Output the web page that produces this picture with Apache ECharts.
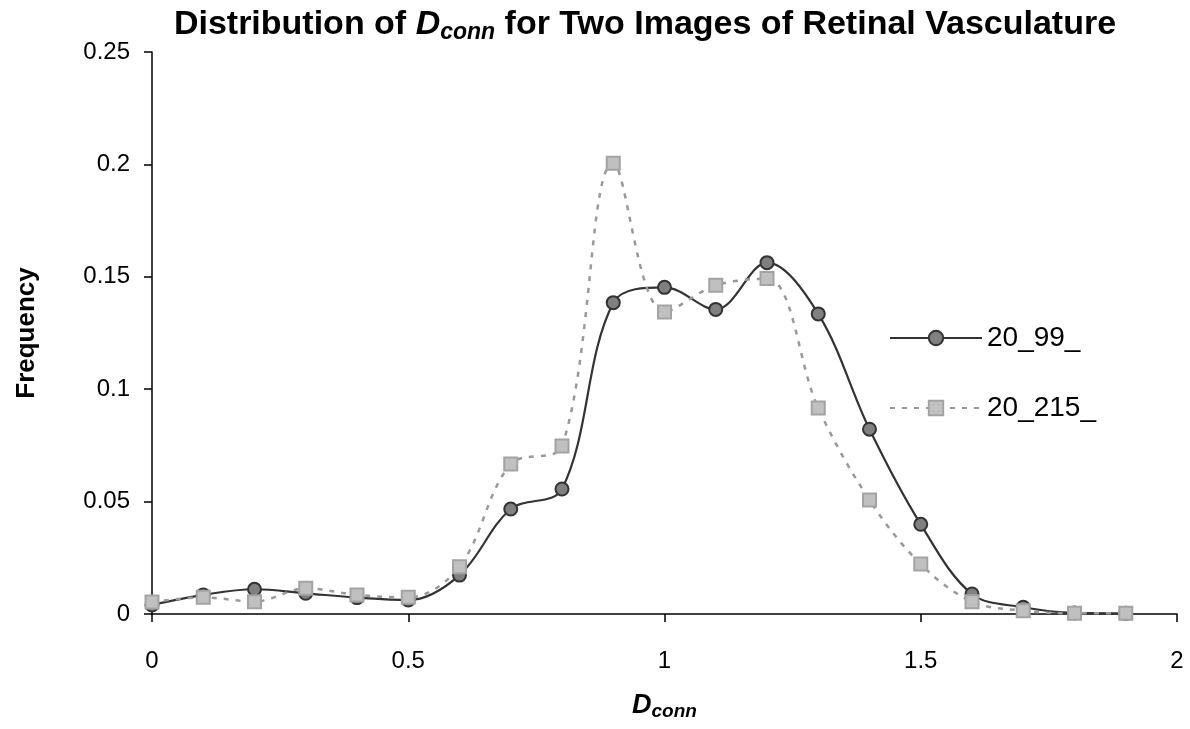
<!DOCTYPE html>
<html>
<head>
<meta charset="utf-8">
<title>Distribution of Dconn</title>
<script src="https://cdn.jsdelivr.net/npm/echarts@6/dist/echarts.min.js"></script>
<style>
  html, body { margin: 0; padding: 0; background: #fff; }
  #chart { width: 1190px; height: 729px; }
</style>
</head>
<body>
<div id="chart"></div>
<script>
// D_conn bins (x axis)
const dconn = [0, 0.1, 0.2, 0.3, 0.4, 0.5, 0.6, 0.7, 0.8, 0.9, 1.0, 1.1, 1.2, 1.3, 1.4, 1.5, 1.6, 1.7, 1.8, 1.9]
// frequency
const freq99 = [0.004, 0.0085, 0.011, 0.0092, 0.0073, 0.0062, 0.0173, 0.0467, 0.0556, 0.1385,
  0.1453, 0.1355, 0.1563, 0.1335, 0.0822, 0.0399, 0.0089, 0.003, 0.0005, 0.0003]
const freq215 = [0.0053, 0.0074, 0.0055, 0.0114, 0.0085, 0.0074, 0.021, 0.0667, 0.0747, 0.2005,
  0.1343, 0.1462, 0.1492, 0.0916, 0.0507, 0.0222, 0.0055, 0.0015, 0.0003, 0.0003]
const seriesNames = ['20_99_', '20_215_']
const xTicks = [0, 0.5, 1, 1.5, 2]
const yTicks = [0, 0.05, 0.1, 0.15, 0.2, 0.25]

const chart = echarts.init(document.getElementById('chart'))
const fontFamily = '"Liberation Sans", Arial, sans-serif'

function pairs(ys) {
  return dconn.map((x, i) => [x, ys[i]])
}

chart.setOption({
  animation: false,
  title: {
    text: 'Distribution of {i|D}{s|conn} for Two Images of Retinal Vasculature',
    left: 640,
    textAlign: 'center',
    top: 1,
    textStyle: {
      fontFamily: fontFamily,
      fontWeight: 'bold',
      fontSize: 34,
      color: '#000',
      rich: {
        i: { fontFamily: fontFamily, fontWeight: 'bold', fontStyle: 'italic', fontSize: 34, color: '#000' },
        s: { fontFamily: fontFamily, fontWeight: 'bold', fontStyle: 'italic', fontSize: 23, color: '#000', padding: [15, 0, 0, 0] }
      }
    }
  },
  legend: {
    orient: 'vertical',
    left: 884,
    top: 319,
    itemWidth: 92,
    itemHeight: 18,
    itemGap: 42,
    data: seriesNames,
    textStyle: { fontFamily: fontFamily, fontSize: 28, color: '#000', lineHeight: 28 }
  },
  grid: {
    left: 152,
    right: 13,
    top: 52,
    bottom: 115
  },
  xAxis: {
    type: 'value',
    min: 0,
    max: 2,
    interval: 0.5,
    name: '{i|D}{s|conn}',
    nameLocation: 'middle',
    nameGap: 76,
    nameTextStyle: {
      rich: {
        i: { fontFamily: fontFamily, fontWeight: 'bold', fontStyle: 'italic', fontSize: 27, color: '#000' },
        s: { fontFamily: fontFamily, fontWeight: 'bold', fontStyle: 'italic', fontSize: 19, color: '#000', padding: [12, 0, 0, 0] }
      }
    },
    axisLine: { lineStyle: { color: '#000', width: 1.5 } },
    axisTick: { show: true, inside: false, length: 8, lineStyle: { color: '#000', width: 1.5 } },
    splitLine: { show: false },
    axisLabel: {
      margin: 35,
      fontFamily: fontFamily,
      fontSize: 24,
      color: '#000',
      formatter: v => xTicks.includes(v) ? String(v) : ''
    }
  },
  yAxis: {
    type: 'value',
    min: 0,
    max: 0.25,
    interval: 0.05,
    name: 'Frequency',
    nameLocation: 'middle',
    nameRotate: 90,
    nameGap: 112,
    nameTextStyle: { fontFamily: fontFamily, fontWeight: 'bold', fontSize: 26, color: '#000' },
    axisLine: { show: true, lineStyle: { color: '#000', width: 1.5 } },
    axisTick: { show: true, inside: false, length: 8, lineStyle: { color: '#000', width: 1.5 } },
    splitLine: { show: false },
    axisLabel: {
      margin: 22,
      fontFamily: fontFamily,
      fontSize: 24,
      color: '#000',
      formatter: v => {
        const t = yTicks.find(k => Math.abs(k - v) < 1e-9)
        return t === undefined ? '' : String(t)
      }
    }
  },
  series: [
    {
      name: seriesNames[0],
      type: 'line',
      data: pairs(freq99),
      smooth: 0.35,
      symbol: 'circle',
      symbolSize: 13,
      lineStyle: { color: '#333', width: 2.2, type: 'solid' },
      itemStyle: { color: '#808080', borderColor: '#333', borderWidth: 2 },
      z: 2
    },
    {
      name: seriesNames[1],
      type: 'line',
      data: pairs(freq215),
      smooth: 0.35,
      symbol: 'rect',
      symbolSize: 13,
      lineStyle: { color: '#999', width: 2.5, type: [5, 7] },
      itemStyle: { color: '#c0c0c0', borderColor: '#a3a3a3', borderWidth: 2 },
      z: 3
    }
  ]
})
</script>
</body>
</html>
